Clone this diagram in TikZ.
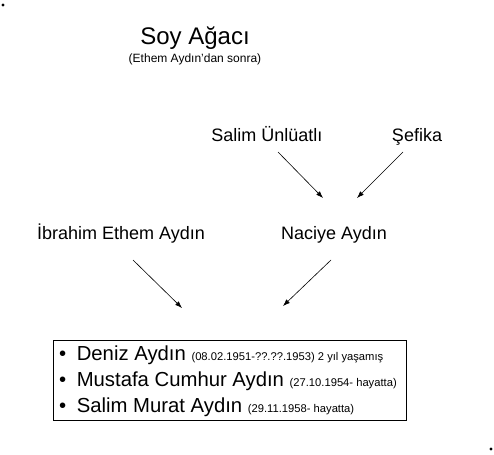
\documentclass[tikz,border=0pt]{standalone}
\usepackage{fontspec}
\setmainfont{Liberation Sans}
\usetikzlibrary{arrows.meta}

\begin{document}
\begin{tikzpicture}
  [x=1pt,y=-1pt,
   isim/.style={anchor=base,inner sep=0pt,font=\fontsize{18}{20}\selectfont},
   satir/.style={anchor=base west,inner sep=0pt,font=\fontsize{20.3}{22}\selectfont},
   ok/.style={-{Latex[length=7pt,width=5pt]},line width=0.6pt}]
  \useasboundingbox (0,0) rectangle (494,454);
  \fill (3,5) circle (1.6);
  \fill (491,449) circle (1.6);

  \node[anchor=base,inner sep=0pt,font=\fontsize{24}{28}\selectfont] (baslik) at (195,45) {Soy Ağacı};
  \node[anchor=base,inner sep=0pt,font=\fontsize{12}{13}\selectfont] (alt) at (195,63) {(Ethem Aydın'dan sonra)};

  \node[isim] (salim) at (267,142) {Salim Ünlüatlı};
  \node[isim] (sefika) at (417,142) {Şefika};
  \node[isim] (ibrahim) at (121,239) {İbrahim Ethem Aydın};
  \node[isim] (naciye) at (334,239) {Naciye Aydın};

  \coordinate (s1) at (278,152);  \coordinate (s2) at (323,198);
  \coordinate (f1) at (403,152);  \coordinate (f2) at (357,198);
  \coordinate (i1) at (133,260);  \coordinate (i2) at (182,308);
  \coordinate (n1) at (331,260);  \coordinate (n2) at (283,306);

  \foreach \from/\to in {s1/s2,f1/f2,i1/i2,n1/n2}
    \draw[ok] (\from) -- (\to);

  \node[draw,line width=0.7pt,minimum width=353pt,minimum height=80pt,inner sep=0pt] (liste) at (229.5,380) {};
  \node[satir] (c1) at (59,360) {•\hspace{10.5pt}Deniz Aydın {\fontsize{11.2}{13}\selectfont (08.02.1951-??.??.1953) 2 yıl yaşamış}};
  \node[satir] (c2) at (59,386.5) {•\hspace{10.5pt}Mustafa Cumhur Aydın {\fontsize{11.2}{13}\selectfont (27.10.1954- hayatta)}};
  \node[satir] (c3) at (59,412) {•\hspace{10.5pt}Salim Murat Aydın {\fontsize{11.2}{13}\selectfont (29.11.1958- hayatta)}};

\end{tikzpicture}
\end{document}
